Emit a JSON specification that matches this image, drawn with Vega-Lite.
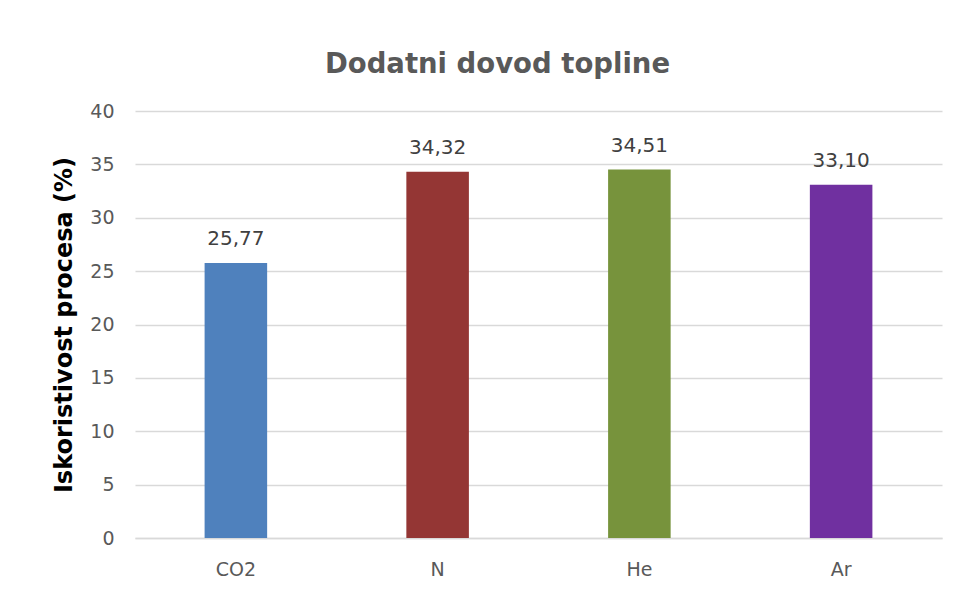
{
  "$schema": "https://vega.github.io/schema/vega-lite/v6.json",
  "width": 807,
  "height": 427,
  "autosize": {"type": "none"},
  "padding": {"left": 135, "top": 111, "right": 13, "bottom": 56},
  "background": "white",
  "config": {
    "font": "DejaVu Sans",
    "view": {"stroke": null},
    "locale": {"number": {"decimal": ",", "thousands": ".", "grouping": [3], "currency": ["", " €"]}}
  },
  "title": {
    "text": "Dodatni dovod topline",
    "fontSize": 27.5,
    "fontWeight": "bold",
    "color": "#595959",
    "font": "DejaVu Sans",
    "anchor": "middle",
    "baseline": "alphabetic",
    "dx": -41,
    "offset": 2
  },
  "data": {
    "values": [
      {"gas": "CO2", "value": 25.77},
      {"gas": "N", "value": 34.32},
      {"gas": "He", "value": 34.51},
      {"gas": "Ar", "value": 33.10}
    ]
  },
  "encoding": {
    "x": {
      "field": "gas",
      "type": "nominal",
      "sort": null,
      "scale": {"paddingInner": 0.69, "paddingOuter": 0.345},
      "axis": {
        "title": null,
        "labelAngle": 0,
        "labelFontSize": 19,
        "labelColor": "#595959",
        "labelPadding": 22,
        "ticks": false,
        "domainColor": "#D9D9D9",
        "domainWidth": 1.5
      }
    },
    "y": {
      "field": "value",
      "type": "quantitative",
      "scale": {"domain": [0, 40]},
      "axis": {
        "title": "Iskoristivost procesa (%)",
        "titleFontSize": 24,
        "titleFontWeight": "bold",
        "titleColor": "#000000",
        "titlePadding": 13,
        "values": [0, 5, 10, 15, 20, 25, 30, 35, 40],
        "labelFontSize": 19,
        "labelColor": "#595959",
        "labelPadding": 21,
        "ticks": false,
        "domain": false,
        "gridColor": "#D9D9D9",
        "gridWidth": 1.5
      }
    }
  },
  "layer": [
    {
      "mark": {"type": "bar"},
      "encoding": {
        "color": {
          "field": "gas",
          "type": "nominal",
          "sort": null,
          "scale": {"domain": ["CO2", "N", "He", "Ar"], "range": ["#4F81BD", "#943634", "#77933C", "#7030A0"]},
          "legend": null
        }
      }
    },
    {
      "mark": {"type": "text", "dy": -18, "baseline": "alphabetic", "fontSize": 20, "color": "#404040"},
      "encoding": {
        "text": {"field": "value", "type": "quantitative", "format": ".2f"}
      }
    }
  ]
}
